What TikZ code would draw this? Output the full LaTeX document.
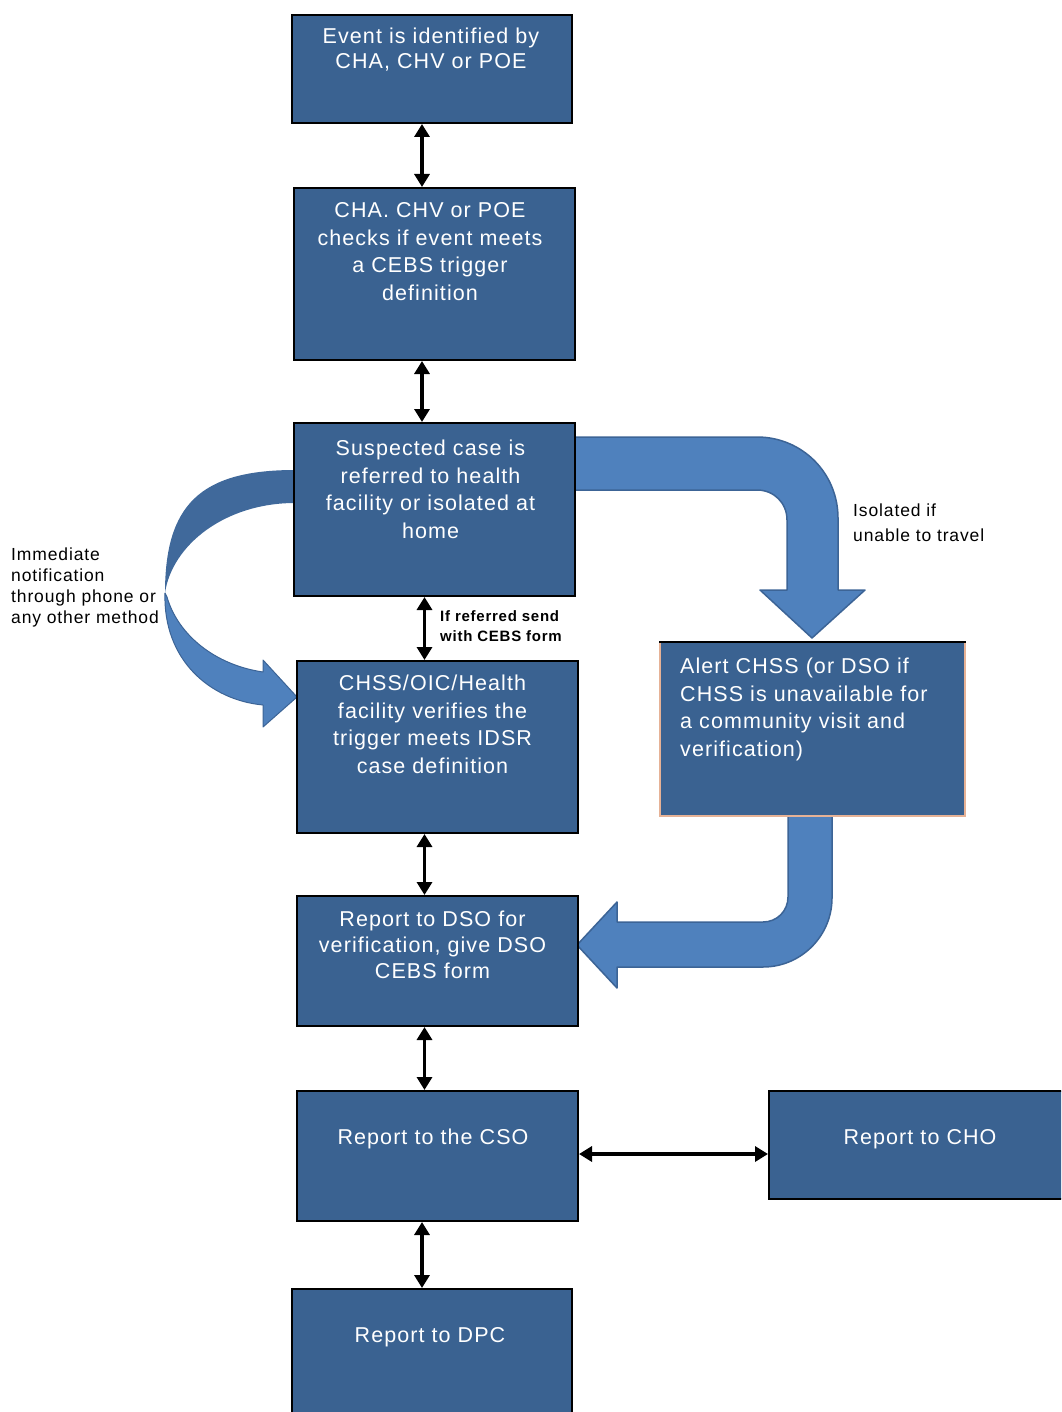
\documentclass[tikz,border=0pt]{standalone}
\usepackage{fontspec}
\setmainfont{Liberation Sans}[LetterSpace=5]
\usetikzlibrary{arrows.meta}
\definecolor{boxfill}{RGB}{58,98,145}
\definecolor{arrfill}{RGB}{79,129,189}
\definecolor{arrdark}{RGB}{64,105,155}
\definecolor{arredge}{RGB}{60,100,150}
\definecolor{peach}{RGB}{230,178,150}
\tikzset{
  box/.style={draw=black, line width=2pt, fill=boxfill, inner sep=0pt, anchor=north west},
  txt/.style={text=white, font=\fontsize{21.5}{27.5}\selectfont, align=center, inner sep=0pt},
  dbl/.style={line width=3.5pt, {Triangle[width=15pt,length=13pt]}-{Triangle[width=15pt,length=13pt]}},
  bigarrow/.style={fill=arrfill, draw=arredge, line width=1.5pt, line join=round},
  note/.style={font=\fontsize{17.5}{21}\selectfont, align=left, inner sep=0pt, anchor=west}
}
\begin{document}
\begin{tikzpicture}[x=1pt,y=-1pt]
\useasboundingbox (0,0) rectangle (1061,1412);
\clip (0,0) rectangle (1061,1412);
% big blue arrows (behind boxes)
\path[bigarrow] (574,437) -- (757,437) .. controls (802,437) and (838,473) .. (838,518) -- (838,590) -- (865,590) -- (812,638) -- (760,590) -- (787,590) -- (787,520) .. controls (787,503) and (774,490) .. (757,490) -- (574,490) -- cycle;
\path[bigarrow] (788,815) -- (788,897) .. controls (788,911) and (777,922) .. (763,922) -- (617,922) -- (617,902) -- (577,945) -- (617,988) -- (617,967) -- (763,967) .. controls (801,967) and (832,936) .. (832,898) -- (832,815) -- cycle;
\path[fill=arrdark] (295,470) .. controls (200,470) and (165,505) .. (165,593) .. controls (172,545) and (225,503) .. (295,503) -- cycle;
\path[fill=arrfill, draw=arredge, line width=1pt, line join=round] (165,593) .. controls (163,660) and (210,700) .. (263,705) -- (263,727) -- (297,697) -- (263,660) -- (263,672) .. controls (215,665) and (178,635) .. (167,597) -- cycle;
% boxes
\node[box, minimum width=280pt, minimum height=108pt] (e) at (291,14) {};
\node[box, minimum width=281pt, minimum height=172pt] (c) at (293,187) {};
\node[box, minimum width=281pt, minimum height=173pt] (s) at (293,422) {};
\node[box, minimum width=281pt, minimum height=172pt] (v) at (296,660) {};
\node[box, minimum width=281pt, minimum height=130pt] (d) at (296,895) {};
\node[box, minimum width=281pt, minimum height=130pt] (cso) at (296,1090) {};
\node[box, minimum width=420pt, minimum height=108pt] (cho) at (768,1090) {};
\node[box, minimum width=280pt, minimum height=160pt] (dpc) at (291,1288) {};
\node[box, draw=peach, minimum width=305pt, minimum height=174pt] (al) at (659,641) {};
\draw[black, line width=1.5pt] ([yshift=-1pt]al.north west) -- ([yshift=-1pt]al.north east);
% box texts
\node[txt, font=\fontsize{21.5}{25}\selectfont] (te) at (431,49.5) {Event is identified by\\CHA, CHV or POE};
\node[txt] (tc) at (430,251.5) {CHA. CHV or POE\\checks if event meets\\a CEBS trigger\\definition};
\node[txt] (ts) at (430.5,489.5) {Suspected case is\\referred to health\\facility or isolated at\\home};
\node[txt] (tv) at (432.5,724.5) {CHSS/OIC/Health\\facility verifies the\\trigger meets IDSR\\case definition};
\node[txt, font=\fontsize{21.5}{26}\selectfont] (td) at (432.5,945) {Report to DSO for\\verification, give DSO\\CEBS form};
\node[txt] (tcso) at (433,1139) {Report to the CSO};
\node[txt] (tcho) at (920,1139) {Report to CHO};
\node[txt] (tdpc) at (430,1337) {Report to DPC};
\node[txt, align=left, anchor=west] (tal) at (680,709.5) {Alert CHSS (or DSO if\\CHSS is unavailable for\\a community visit and\\verification)};
% notes
\node[note, font=\fontsize{17.5}{25}\selectfont] (n1) at (853,522.5) {Isolated if\\unable to travel};
\node[note] (n2) at (11,587) {Immediate\\notification\\through phone or\\any other method};
\node[note, font=\fontsize{15}{20}\selectfont\bfseries] (n3) at (440,626) {If referred send\\with CEBS form};
% connectors
\coordinate (xa) at (422,0);
\coordinate (xb) at (424.5,0);
\draw[dbl] (e.south -| xa) -- (c.north -| xa);
\draw[dbl] (c.south -| xa) -- (s.north -| xa);
\draw[dbl] (s.south -| xb) -- (v.north -| xb);
\draw[dbl] (v.south -| xb) -- (d.north -| xb);
\draw[dbl] (d.south -| xb) -- (cso.north -| xb);
\draw[dbl] (cso.south -| xa) -- (dpc.north -| xa);
\coordinate (yh) at (0,1154);
\draw[dbl] (cso.east |- yh) -- (cho.west |- yh);
\end{tikzpicture}
\end{document}
